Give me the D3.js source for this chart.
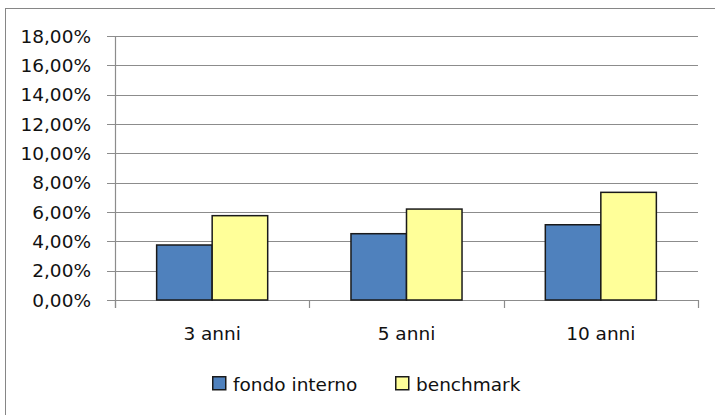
<!DOCTYPE html>
<html>
<head>
<meta charset="utf-8">
<script src="https://cdn.jsdelivr.net/npm/d3@7"></script>
<style>
  html, body { margin: 0; padding: 0; background: #fff; }
  svg { display: block; }
  text { font-family: "DejaVu Sans", Verdana, sans-serif; font-size: 18.5px; fill: #111; }
</style>
</head>
<body>
<svg id="chart" width="715" height="415"></svg>
<script>
const categories = ["3 anni", "5 anni", "10 anni"];
const seriesNames = ["fondo interno", "benchmark"];
const fondoInterno = [0.0375, 0.0452, 0.0513];
const benchmark = [0.0575, 0.0620, 0.0734];
const yTicks = [0, 0.02, 0.04, 0.06, 0.08, 0.10, 0.12, 0.14, 0.16, 0.18];
const colors = ["#4F81BD", "#FFFF99"];

const seriesValues = [fondoInterno, benchmark];

const svg = d3.select("#chart");
const W = 715, H = 415;
const plot = { left: 115, right: 698, top: 36, bottom: 300 };

// outer chart border
svg.append("rect")
  .attr("x", 5.5).attr("y", 8.5)
  .attr("width", W + 10).attr("height", H + 10)
  .attr("fill", "#fff").attr("stroke", "#868686").attr("stroke-width", 1);

const x = d3.scaleBand().domain(categories).range([plot.left, plot.right]).padding(0);
const xSub = d3.scaleBand().domain(seriesNames).range([0, x.step()])
  .paddingInner(0).paddingOuter(0.75);
const y = d3.scaleLinear().domain([0, 0.18]).range([plot.bottom, plot.top]);

const locale = d3.formatLocale({ decimal: ",", thousands: ".", grouping: [3], currency: ["", "€"] });
const fmt = locale.format(".2%");

// gridlines
svg.append("g").selectAll("line").data(yTicks).join("line")
  .attr("x1", plot.left - 8).attr("x2", plot.right)
  .attr("y1", d => Math.round(y(d)) + 0.5).attr("y2", d => Math.round(y(d)) + 0.5)
  .attr("stroke", "#8c8c8c").attr("stroke-width", 1.2);

// y axis line
svg.append("line")
  .attr("x1", plot.left + 0.5).attr("x2", plot.left + 0.5)
  .attr("y1", plot.top).attr("y2", plot.bottom + 8)
  .attr("stroke", "#8c8c8c").attr("stroke-width", 1.2);

// category ticks
const catEdges = categories.map(c => x(c)).concat([x(categories[categories.length - 1]) + x.step()]);
svg.append("g").selectAll("line").data(catEdges).join("line")
  .attr("x1", d => Math.round(d) + 0.5).attr("x2", d => Math.round(d) + 0.5)
  .attr("y1", plot.bottom).attr("y2", plot.bottom + 8)
  .attr("stroke", "#8c8c8c").attr("stroke-width", 1.2);

// y labels
svg.append("g").selectAll("text").data(yTicks).join("text")
  .attr("x", 91).attr("y", d => y(d))
  .attr("dy", "0.36em")
  .attr("text-anchor", "end")
  .text(d => fmt(d));

// bars
const groups = svg.append("g").selectAll("g").data(categories).join("g")
  .attr("transform", c => `translate(${x(c)},0)`);
groups.selectAll("rect").data((c, i) => seriesNames.map((s, j) => ({ s, j, v: seriesValues[j][i] })))
  .join("rect")
  .attr("x", d => xSub(d.s))
  .attr("width", xSub.bandwidth())
  .attr("y", d => y(d.v))
  .attr("height", d => y(0) - y(d.v))
  .attr("fill", d => colors[d.j])
  .attr("stroke", "#1a1a1a").attr("stroke-width", 1.5);

// category labels
svg.append("g").selectAll("text").data(categories).join("text")
  .attr("x", c => x(c) + x.step() / 2)
  .attr("y", 340)
  .attr("text-anchor", "middle")
  .text(c => c);

// legend
const legendItems = [
  { name: seriesNames[0], color: colors[0], x: 212 },
  { name: seriesNames[1], color: colors[1], x: 395 }
];
const lg = svg.append("g").selectAll("g").data(legendItems).join("g")
  .attr("transform", d => `translate(${d.x},376)`);
lg.append("rect").attr("x", 0.75).attr("y", 0.75).attr("width", 13).attr("height", 13)
  .attr("fill", d => d.color).attr("stroke", "#1a1a1a").attr("stroke-width", 1.5);
lg.append("text").attr("x", 21).attr("y", 14.5).text(d => d.name);
</script>
</body>
</html>
